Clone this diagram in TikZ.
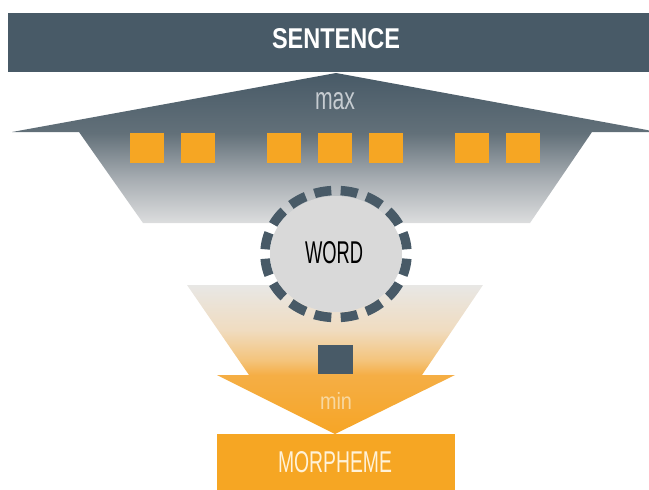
\documentclass[tikz,border=0pt]{standalone}
\usepackage{fontspec}
\setmainfont{Liberation Sans}
\usepackage{graphicx}
\usetikzlibrary{shapes.geometric}
\definecolor{slate}{HTML}{485A67}
\definecolor{orng}{HTML}{F6A623}
\definecolor{cgray}{HTML}{D9D9D9}
\definecolor{maxgray}{HTML}{C6CCD1}
\definecolor{minpale}{HTML}{F8D8A0}
\definecolor{cream}{HTML}{FFF2D8}
\definecolor{ua}{HTML}{485A67}
\definecolor{ub}{HTML}{627079}
\definecolor{uc}{HTML}{A6ACB1}
\definecolor{ud}{HTML}{DCDDDE}
\definecolor{la}{HTML}{E8E7E5}
\definecolor{lb}{HTML}{F0DCC0}
\definecolor{lc}{HTML}{F4C47C}
\definecolor{ld}{HTML}{F5AE45}
\definecolor{le}{HTML}{F6A526}
\pgfdeclareverticalshading{uppershade}{100bp}{color(0bp)=(ud); color(25bp)=(ud); color(40bp)=(uc); color(55bp)=(ub); color(75bp)=(ua); color(100bp)=(ua)}
\pgfdeclareverticalshading{lowershade}{100bp}{color(0bp)=(le); color(25bp)=(le); color(44.8bp)=(ld); color(49.8bp)=(lc); color(59.9bp)=(lb); color(75bp)=(la); color(100bp)=(la)}
\tikzset{
  band/.style={fill=#1, draw=none, inner sep=0pt, anchor=north west},
  osq/.style={fill=orng, draw=none, inner sep=0pt, anchor=north west, minimum width=34pt, minimum height=30pt},
  lbl/.style={inner sep=0pt, text=#1},
}
\begin{document}
\begin{tikzpicture}[x=1pt,y=-1pt]
\useasboundingbox (0,0) rectangle (649,490);
% top bar
\node[band=slate, minimum width=660pt, minimum height=59pt] (sentence) at (7.5,12.5) {};
\node[lbl=white] (sentencetext) at (336,39) {\resizebox{128pt}{20pt}{\bfseries SENTENCE}};
% upper shape
\shade[shading=uppershade] (336,73) -- (658,132) -- (592,132) -- (530,223) -- (143,223) -- (79,132) -- (12,132) -- cycle;
\node[lbl=maxgray] (max) at (335,101) {\resizebox{40pt}{17pt}{max}};
\foreach \i/\x in {1/130,2/181,3/267,4/318,5/369,6/455,7/506}{
  \node[osq] (sq\i) at (\x,133) {};
}
% lower shape
\shade[shading=lowershade] (187,285) -- (483,285) -- (422,375) -- (455,375) -- (335,434) -- (217,375) -- (249,375) -- cycle;
\node[band=slate, minimum width=35pt, minimum height=29pt] (dsq) at (318,345) {};
\node[lbl=minpale] (min) at (336,401) {\resizebox{32pt}{17pt}{min}};
% word circle
\node[ellipse, fill=cgray, draw=none, minimum width=132pt, minimum height=116pt, inner sep=0pt] (word) at (336,254) {};
\draw[slate, line width=9.5pt, dash pattern=on 17pt off 9.43pt, dash phase=21.7pt] (word.center) ellipse [x radius=71pt, y radius=63.5pt];
\node[lbl=black] (wordtext) at (334,253) {\resizebox{58pt}{22pt}{WORD}};
% morpheme box
\node[band=orng, minimum width=238pt, minimum height=56pt] (morph) at (217,434) {};
\node[lbl=cream] (morphtext) at (335,462.5) {\resizebox{114pt}{21pt}{MORPHEME}};
\end{tikzpicture}
\end{document}
